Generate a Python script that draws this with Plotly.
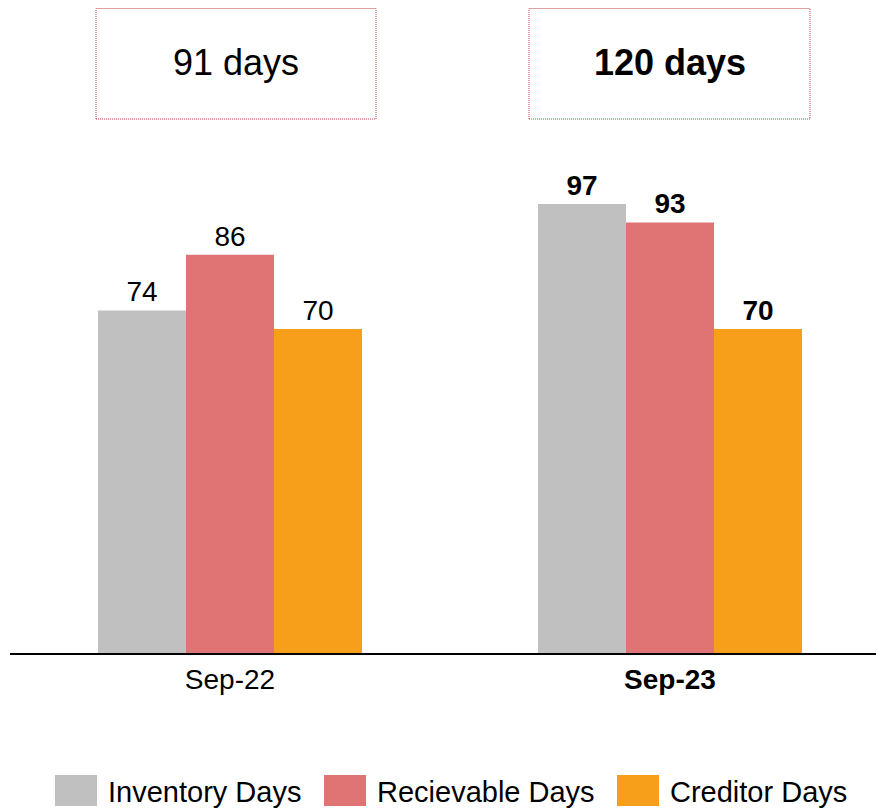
import plotly.graph_objects as go

periods = ["Sep-22", "Sep-23"]
tick_labels = ["Sep-22", "<b>Sep-23</b>"]
inventory_days = [74, 97]
receivable_days = [86, 93]
creditor_days = [70, 70]
cycle_labels = ["91 days", "<b>120 days</b>"]
series_names = ["Inventory Days", "Recievable Days", "Creditor Days"]
series_colors = ["#C0C0C0", "#E07374", "#F79E1B"]
series_values = [inventory_days, receivable_days, creditor_days]

FONT = "Arial, Liberation Sans, sans-serif"

fig = go.Figure()
for name, vals, color in zip(series_names, series_values, series_colors):
    texts = [str(vals[0]), f"<b>{vals[1]}</b>"]
    fig.add_trace(go.Bar(
        name=name, x=periods, y=vals, marker=dict(color=color, line=dict(width=0)),
        text=texts, textposition="outside", cliponaxis=False, showlegend=False,
        textfont=dict(size=28, color="black", family=FONT),
    ))

# page offset (body margin) compensation: reference pixel p -> figure pixel p - OFF
OFF = 8
W, H = 884 - OFF, 811 - OFF
L, R = 10 - OFF, 0
AXIS_Y = 653 - OFF
TOP_Y = 140 - OFF
T, B = TOP_Y, H - AXIS_Y
pw, ph = W - L - R, H - T - B

def px(x):
    return (x - OFF - L) / pw

def py(y):
    return (AXIS_Y - (y - OFF)) / ph

shapes = []
annotations = []

# summary boxes above each period
boxes = [(96, 376), (529, 810)]
for (x0, x1), lab in zip(boxes, cycle_labels):
    shapes.append(dict(type="rect", xref="paper", yref="paper",
                       x0=px(x0), x1=px(x1), y0=py(119), y1=py(OFF + 0.5),
                       line=dict(color="#B8464A", width=1, dash="1px,1px"),
                       fillcolor="rgba(0,0,0,0)"))
    annotations.append(dict(xref="paper", yref="paper", x=px((x0 + x1) / 2), y=py(63),
                            xanchor="center", yanchor="middle",
                            text=lab, showarrow=False,
                            font=dict(size=36, color="black", family=FONT)))

# legend (large swatches as in the reference)
legend_text_x = [108, 377, 670]
for name, color, tx in zip(series_names, series_colors, legend_text_x):
    shapes.append(dict(type="rect", xref="paper", yref="paper",
                       x0=px(tx - 53), x1=px(tx - 11), y0=py(806), y1=py(775),
                       line=dict(width=0), fillcolor=color))
    annotations.append(dict(xref="paper", yref="paper", x=px(tx - 2), y=py(792),
                            xanchor="left", yanchor="middle", text=name, showarrow=False,
                            font=dict(size=29, color="black", family=FONT)))

fig.update_layout(
    width=W, height=H,
    margin=dict(l=L, r=R, t=T, b=B, autoexpand=False),
    paper_bgcolor="white", plot_bgcolor="white",
    barmode="group", bargap=0.4, bargroupgap=0,
    font=dict(family=FONT, color="black", size=28),
    xaxis=dict(type="category", range=[-0.5, -0.5 + pw / 440],
               tickvals=periods, ticktext=tick_labels, automargin=False,
               showline=True, linecolor="black", linewidth=2,
               ticks="", showgrid=False, tickfont=dict(size=28, color="black")),
    yaxis=dict(range=[0, ph / 4.63], visible=False, showgrid=False, zeroline=False),
    shapes=shapes, annotations=annotations,
    showlegend=False,
)

fig.write_html("out.html")
